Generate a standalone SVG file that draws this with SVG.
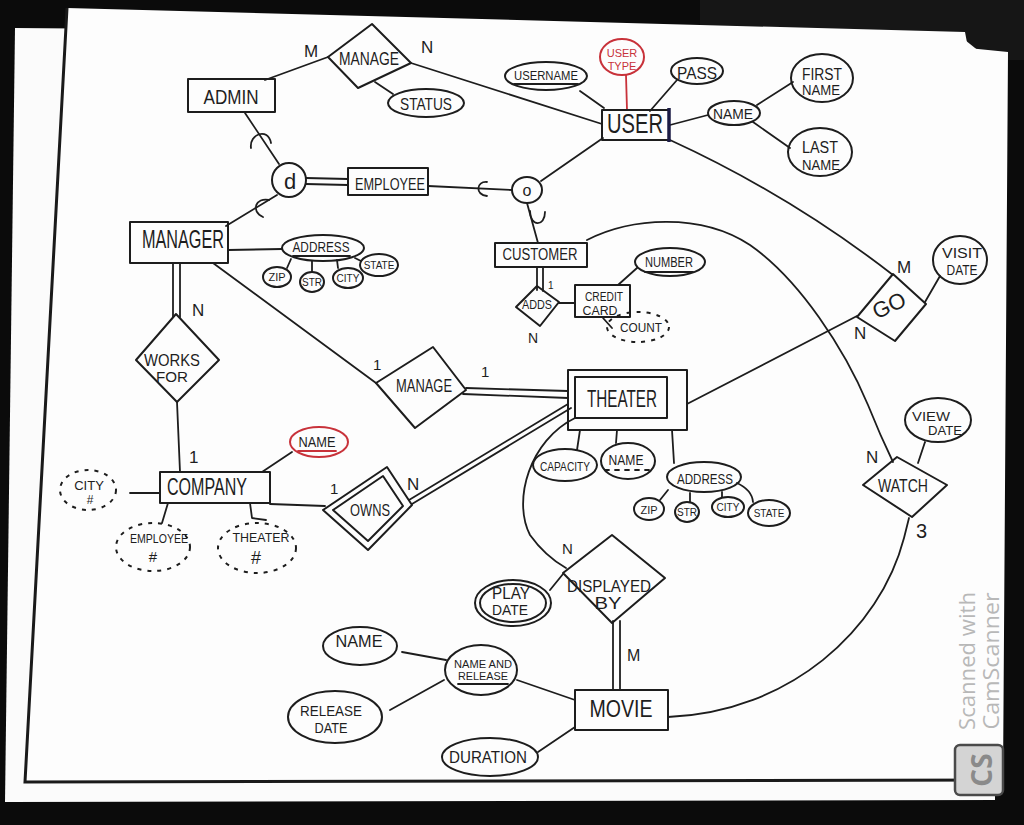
<svg xmlns="http://www.w3.org/2000/svg" width="1024" height="825" viewBox="0 0 1024 825">
  <style>
    .ln { fill: none; stroke: #1d1d1d; stroke-width: 1.8; stroke-linecap: round; stroke-linejoin: round; }
    .sh { fill: none; stroke: #1d1d1d; stroke-width: 2; stroke-linejoin: round; }
    .dash { stroke-dasharray: 4 6; }
    .red { stroke: #c8323a; }
    .t { font-family: "Liberation Sans", "DejaVu Sans", sans-serif; fill: #1e1e1e; text-anchor: middle; }
    .tr { fill: #c8323a; }
    .card { font-family: "Liberation Sans", "DejaVu Sans", sans-serif; fill: #1e1e1e; }
    .wm { font-family: "Open Sans", "Liberation Sans", sans-serif; fill: #b8b8b8; text-anchor: middle; }
  </style>

  <!-- backdrop and sheets of paper -->
  <rect x="0" y="0" width="1024" height="825" fill="#0b0b0b"/>
  <rect x="700" y="0" width="324" height="60" fill="#161616"/>
  <polygon points="15,28 960,36 990,60 995,800 5,802" fill="#fbfbfb"/>
  <polygon points="67,8 965,32 968,48 1008,52 1003,780 25,782" fill="#fdfdfd"/>
  <polyline points="67,8 25,782 1003,780" fill="none" stroke="#1a1a1a" stroke-width="3"/>

  <!-- connectors -->
  <g id="connectors" class="ln">
    <path d="M265 80 L328 57"/>
    <path d="M411 63 L602 124"/>
    <path d="M375 82 L393 94"/>
    <path d="M580 91 L604 108"/>
    <path class="red" d="M626 75 L627 110"/>
    <path d="M677 80 L650 111"/>
    <path d="M670 125 L708 115"/>
    <path d="M757 105 L793 82"/>
    <path d="M753 122 L790 148"/>
    <path d="M603 138 L541 181"/>
    <path d="M670 140 Q790 195 893 275"/>
    <!-- specialisation links with subset marks -->
    <path d="M245 113 L279 164"/>
    <path d="M251 148 C249 134 268 127 271 143"/>
    <path d="M306 178 L348 179"/>
    <path d="M306 184 L348 185"/>
    <path d="M428 186 L512 190"/>
    <path d="M487 182 C476 181 475 195 487 196"/>
    <path d="M277 195 L226 226"/>
    <path d="M269 200 C256 197 250 211 263 217"/>
    <path d="M527 203 L538 243"/>
    <path d="M530 211 C530 227 545 227 545 212"/>
    <!-- manager -->
    <path d="M228 250 L282 249"/>
    <path d="M291 259 L287 268"/>
    <path d="M312 261 L312 272"/>
    <path d="M337 260 L338 268"/>
    <path d="M355 258 L361 261"/>
    <path d="M173 263 L173 317"/>
    <path d="M180 263 L180 317"/>
    <path d="M177 402 L180 472"/>
    <path d="M213 263 L376 383"/>
    <!-- company -->
    <path d="M262 472 L292 452"/>
    <path d="M130 493 L160 493"/>
    <path d="M168 503 L162 523"/>
    <path d="M250 503 L252 518 L266 520"/>
    <path d="M270 504 L325 506"/>
    <path d="M409 500 L568 404"/>
    <path d="M412 504 L571 408"/>
    <path d="M466 388 L568 391"/>
    <path d="M463 394 L568 398"/>
    <!-- theater -->
    <path d="M575 418 C530 440 512 500 530 535 Q545 556 566 568"/>
    <path d="M687 404 L857 316"/>
    <path d="M580 430 L577 450"/>
    <path d="M617 430 L616 443"/>
    <path d="M672 430 L674 463"/>
    <path d="M668 490 L660 500"/>
    <path d="M690 493 L690 502"/>
    <path d="M722 492 L722 497"/>
    <path d="M737 483 Q752 490 753 502"/>
    <path d="M925 302 L940 276"/>
    <!-- customer -->
    <path d="M587 240 C630 218 700 212 750 245 C800 280 845 350 868 405 Q880 435 893 462"/>
    <path d="M537 267 L537 290"/>
    <path d="M543 267 L543 291"/>
    <path d="M559 303 L575 303"/>
    <path d="M618 285 L637 268"/>
    <path d="M603 318 L612 328"/>
    <!-- watch / movie -->
    <path d="M918 463 L925 442"/>
    <path d="M909 518 L904 538 C880 630 790 712 668 717"/>
    <path d="M563 574 L550 590"/>
    <path d="M613 621 L613 690"/>
    <path d="M620 621 L620 690"/>
    <path d="M575 700 L517 680"/>
    <path d="M402 652 L446 660"/>
    <path d="M390 710 L444 680"/>
    <path d="M575 727 L538 752"/>
  </g>

  <!-- cardinality labels -->
  <g id="cardinalities" class="card" font-size="17">
    <text x="304" y="57">M</text>
    <text x="421" y="53">N</text>
    <text x="192" y="316">N</text>
    <text x="189" y="463">1</text>
    <text x="330" y="494" font-size="15">1</text>
    <text x="407" y="490">N</text>
    <text x="373" y="370" font-size="15">1</text>
    <text x="481" y="377" font-size="15">1</text>
    <text x="897" y="273">M</text>
    <text x="854" y="339">N</text>
    <text x="548" y="289" font-size="10">1</text>
    <text x="528" y="343" font-size="14">N</text>
    <text x="866" y="463">N</text>
    <text x="916" y="538" font-size="20">3</text>
    <text x="562" y="554" font-size="15">N</text>
    <text x="627" y="661" font-size="16">M</text>
  </g>

  <!-- entities, relationships and attributes -->
  <g id="admin">
    <rect class="sh" x="188" y="79" width="87" height="33"/>
    <text class="t" x="231" y="104" font-size="20" textLength="55" lengthAdjust="spacingAndGlyphs">ADMIN</text>
  </g>
  <g id="manage-user">
    <polygon class="sh" points="328,57 372,24 411,63 358,88"/>
    <text class="t" x="369" y="65" font-size="19" textLength="60" lengthAdjust="spacingAndGlyphs">MANAGE</text>
  </g>
  <g id="status">
    <ellipse class="sh" cx="426" cy="103" rx="38" ry="14"/>
    <text class="t" x="426" y="110" font-size="17" textLength="52" lengthAdjust="spacingAndGlyphs">STATUS</text>
  </g>
  <g id="user">
    <rect class="sh" x="602" y="110" width="67" height="30"/>
    <path d="M669 108 L669 142" stroke="#1b1b45" stroke-width="3.5"/>
    <text class="t" x="635" y="133" font-size="27" textLength="56" lengthAdjust="spacingAndGlyphs">USER</text>
  </g>
  <g id="username">
    <ellipse class="sh" cx="546" cy="76" rx="41" ry="14"/>
    <text class="t" x="546" y="80" font-size="13" textLength="64" lengthAdjust="spacingAndGlyphs">USERNAME</text>
    <path class="ln" d="M514 84 L578 84"/>
  </g>
  <g id="user-type">
    <ellipse class="sh red" cx="622" cy="57" rx="22" ry="18"/>
    <text class="t tr" x="622" y="57" font-size="11">USER</text>
    <text class="t tr" x="622" y="70" font-size="11">TYPE</text>
  </g>
  <g id="pass">
    <ellipse class="sh" cx="697" cy="71" rx="26" ry="13"/>
    <text class="t" x="697" y="79" font-size="17" textLength="40" lengthAdjust="spacingAndGlyphs">PASS</text>
  </g>
  <g id="user-name">
    <ellipse class="sh" cx="734" cy="113" rx="26" ry="12"/>
    <text class="t" x="733" y="119" font-size="15" textLength="40" lengthAdjust="spacingAndGlyphs">NAME</text>
  </g>
  <g id="first-name">
    <ellipse class="sh" cx="822" cy="78" rx="31" ry="24"/>
    <text class="t" x="822" y="80" font-size="16" textLength="40" lengthAdjust="spacingAndGlyphs">FIRST</text>
    <text class="t" x="821" y="95" font-size="15" textLength="38" lengthAdjust="spacingAndGlyphs">NAME</text>
  </g>
  <g id="last-name">
    <ellipse class="sh" cx="820" cy="152" rx="32" ry="24"/>
    <text class="t" x="820" y="153" font-size="16" textLength="36" lengthAdjust="spacingAndGlyphs">LAST</text>
    <text class="t" x="821" y="170" font-size="15" textLength="38" lengthAdjust="spacingAndGlyphs">NAME</text>
  </g>
  <g id="disjoint">
    <circle class="sh" cx="289" cy="180" r="17"/>
    <text class="t" x="290" y="189" font-size="22">d</text>
  </g>
  <g id="employee">
    <rect class="sh" x="348" y="168" width="80" height="27"/>
    <text class="t" x="390" y="190" font-size="17" textLength="70" lengthAdjust="spacingAndGlyphs">EMPLOYEE</text>
  </g>
  <g id="overlap">
    <ellipse class="sh" cx="527" cy="190" rx="15" ry="13"/>
    <text class="t" x="527" y="196" font-size="16">o</text>
  </g>
  <g id="manager">
    <rect class="sh" x="130" y="222" width="98" height="41"/>
    <text class="t" x="183" y="248" font-size="26" textLength="82" lengthAdjust="spacingAndGlyphs">MANAGER</text>
  </g>
  <g id="manager-address">
    <ellipse class="sh" cx="323" cy="248" rx="41" ry="13"/>
    <text class="t" x="321" y="252" font-size="15" textLength="57" lengthAdjust="spacingAndGlyphs">ADDRESS</text>
    <path class="ln" d="M293 256 L350 256"/>
  </g>
  <g id="manager-zip">
    <ellipse class="sh" cx="277" cy="277" rx="14" ry="10"/>
    <text class="t" x="277" y="281" font-size="11">ZIP</text>
  </g>
  <g id="manager-str">
    <ellipse class="sh" cx="312" cy="282" rx="12" ry="10"/>
    <text class="t" x="312" y="286" font-size="10">STR</text>
  </g>
  <g id="manager-city">
    <ellipse class="sh" cx="348" cy="278" rx="15" ry="10"/>
    <text class="t" x="348" y="282" font-size="10">CITY</text>
  </g>
  <g id="manager-state">
    <ellipse class="sh" cx="379" cy="265" rx="19" ry="11"/>
    <text class="t" x="379" y="269" font-size="10">STATE</text>
  </g>
  <g id="works-for">
    <polygon class="sh" points="176,314 219,360 177,402 136,360"/>
    <text class="t" x="172" y="366" font-size="17" textLength="56" lengthAdjust="spacingAndGlyphs">WORKS</text>
    <text class="t" x="172" y="382" font-size="15" textLength="32" lengthAdjust="spacingAndGlyphs">FOR</text>
  </g>
  <g id="company">
    <rect class="sh" x="160" y="472" width="110" height="31"/>
    <text class="t" x="207" y="495" font-size="24" textLength="80" lengthAdjust="spacingAndGlyphs">COMPANY</text>
  </g>
  <g id="company-name">
    <ellipse class="sh red" cx="319" cy="442" rx="29" ry="15"/>
    <text class="t" x="317" y="447" font-size="15" textLength="37" lengthAdjust="spacingAndGlyphs">NAME</text>
    <path class="ln red" d="M298 451 L336 451"/>
  </g>
  <g id="city-count">
    <ellipse class="sh dash" cx="88" cy="490" rx="28" ry="20"/>
    <text class="t" x="89" y="490" font-size="13">CITY</text>
    <text class="t" x="90" y="504" font-size="12">#</text>
  </g>
  <g id="employee-count">
    <ellipse class="sh dash" cx="153" cy="547" rx="37" ry="24"/>
    <text class="t" x="159" y="543" font-size="13" textLength="58" lengthAdjust="spacingAndGlyphs">EMPLOYEE</text>
    <text class="t" x="153" y="562" font-size="15">#</text>
  </g>
  <g id="theater-count">
    <ellipse class="sh dash" cx="257" cy="548" rx="39" ry="25"/>
    <text class="t" x="261" y="542" font-size="13" textLength="57" lengthAdjust="spacingAndGlyphs">THEATER</text>
    <text class="t" x="256" y="564" font-size="18">#</text>
  </g>
  <g id="owns">
    <polygon class="sh" points="323,510 387,467 412,505 368,550"/>
    <polygon class="sh" points="333,510 383,476 403,506 368,541"/>
    <text class="t" x="370" y="516" font-size="17" textLength="40" lengthAdjust="spacingAndGlyphs">OWNS</text>
  </g>
  <g id="manage-theater">
    <polygon class="sh" points="376,383 433,347 466,390 415,428"/>
    <text class="t" x="424" y="392" font-size="18" textLength="56" lengthAdjust="spacingAndGlyphs">MANAGE</text>
  </g>
  <g id="theater">
    <rect class="sh" x="568" y="370" width="119" height="60"/>
    <rect class="sh" x="575" y="377" width="92" height="41"/>
    <text class="t" x="622" y="407" font-size="24" textLength="70" lengthAdjust="spacingAndGlyphs">THEATER</text>
  </g>
  <g id="capacity">
    <ellipse class="sh" cx="565" cy="465" rx="32" ry="16"/>
    <text class="t" x="565" y="471" font-size="13" textLength="50" lengthAdjust="spacingAndGlyphs">CAPACITY</text>
  </g>
  <g id="theater-name">
    <ellipse class="sh" cx="628" cy="461" rx="27" ry="18"/>
    <text class="t" x="626" y="465" font-size="14" textLength="35" lengthAdjust="spacingAndGlyphs">NAME</text>
    <path class="ln dash" d="M605 470 L650 470" stroke-dasharray="4 3"/>
  </g>
  <g id="theater-address">
    <ellipse class="sh" cx="704" cy="477" rx="37" ry="15"/>
    <text class="t" x="705" y="484" font-size="15" textLength="56" lengthAdjust="spacingAndGlyphs">ADDRESS</text>
  </g>
  <g id="theater-zip">
    <ellipse class="sh" cx="649" cy="509" rx="15" ry="11"/>
    <text class="t" x="649" y="514" font-size="11">ZIP</text>
  </g>
  <g id="theater-str">
    <ellipse class="sh" cx="687" cy="512" rx="12" ry="10"/>
    <text class="t" x="687" y="516" font-size="10">STR</text>
  </g>
  <g id="theater-city">
    <ellipse class="sh" cx="728" cy="507" rx="16" ry="10"/>
    <text class="t" x="728" y="511" font-size="10">CITY</text>
  </g>
  <g id="theater-state">
    <ellipse class="sh" cx="769" cy="513" rx="21" ry="13"/>
    <text class="t" x="769" y="517" font-size="10">STATE</text>
  </g>
  <g id="go">
    <polygon class="sh" points="893,274 926,304 895,341 857,317"/>
    <text class="t" x="889" y="313" font-size="22" transform="rotate(-25 889 305)">GO</text>
  </g>
  <g id="visit-date">
    <ellipse class="sh" cx="960" cy="260" rx="27" ry="24"/>
    <text class="t" x="962" y="258" font-size="14" textLength="40" lengthAdjust="spacingAndGlyphs">VISIT</text>
    <text class="t" x="962" y="275" font-size="14" textLength="31" lengthAdjust="spacingAndGlyphs">DATE</text>
  </g>
  <g id="customer">
    <rect class="sh" x="495" y="243" width="92" height="24"/>
    <text class="t" x="540" y="260" font-size="16" textLength="75" lengthAdjust="spacingAndGlyphs">CUSTOMER</text>
  </g>
  <g id="adds">
    <polygon class="sh" points="537,286 559,302 540,326 516,307"/>
    <text class="t" x="537" y="309" font-size="12" textLength="30" lengthAdjust="spacingAndGlyphs">ADDS</text>
  </g>
  <g id="credit-card">
    <rect class="sh" x="575" y="285" width="55" height="32"/>
    <text class="t" x="604" y="301" font-size="12" textLength="38" lengthAdjust="spacingAndGlyphs">CREDIT</text>
    <text class="t" x="600" y="315" font-size="12" textLength="35" lengthAdjust="spacingAndGlyphs">CARD</text>
  </g>
  <g id="number">
    <ellipse class="sh" cx="670" cy="262" rx="35" ry="14"/>
    <text class="t" x="669" y="267" font-size="14" textLength="48" lengthAdjust="spacingAndGlyphs">NUMBER</text>
    <path class="ln" d="M645 272 L693 272"/>
  </g>
  <g id="count">
    <ellipse class="sh dash" cx="638" cy="327" rx="31" ry="15"/>
    <text class="t" x="641" y="332" font-size="13" textLength="42" lengthAdjust="spacingAndGlyphs">COUNT</text>
  </g>
  <g id="watch">
    <polygon class="sh" points="863,485 897,457 947,485 912,517"/>
    <text class="t" x="903" y="492" font-size="18" textLength="50" lengthAdjust="spacingAndGlyphs">WATCH</text>
  </g>
  <g id="view-date">
    <ellipse class="sh" cx="938" cy="420" rx="33" ry="22"/>
    <text class="t" x="931" y="421" font-size="13" textLength="38" lengthAdjust="spacingAndGlyphs">VIEW</text>
    <text class="t" x="945" y="435" font-size="13" textLength="34" lengthAdjust="spacingAndGlyphs">DATE</text>
  </g>
  <g id="displayed-by">
    <polygon class="sh" points="612,535 665,578 612,623 563,573"/>
    <text class="t" x="609" y="592" font-size="16" textLength="84" lengthAdjust="spacingAndGlyphs">DISPLAYED</text>
    <text class="t" x="608" y="609" font-size="16" textLength="27" lengthAdjust="spacingAndGlyphs">BY</text>
  </g>
  <g id="play-date">
    <ellipse class="sh" cx="513" cy="603" rx="38" ry="23"/>
    <ellipse class="sh" cx="513" cy="603" rx="33" ry="19"/>
    <text class="t" x="511" y="599" font-size="16" textLength="38" lengthAdjust="spacingAndGlyphs">PLAY</text>
    <text class="t" x="510" y="615" font-size="14" textLength="36" lengthAdjust="spacingAndGlyphs">DATE</text>
  </g>
  <g id="movie">
    <rect class="sh" x="575" y="690" width="93" height="40"/>
    <text class="t" x="621" y="717" font-size="24" textLength="63" lengthAdjust="spacingAndGlyphs">MOVIE</text>
  </g>
  <g id="name-and-release">
    <ellipse class="sh" cx="481" cy="670" rx="36" ry="25"/>
    <text class="t" x="483" y="668" font-size="10" textLength="58" lengthAdjust="spacingAndGlyphs">NAME AND</text>
    <text class="t" x="483" y="680" font-size="10" textLength="50" lengthAdjust="spacingAndGlyphs">RELEASE</text>
    <path class="ln" d="M458 684 L508 684"/>
  </g>
  <g id="movie-name">
    <ellipse class="sh" cx="360" cy="646" rx="37" ry="19"/>
    <text class="t" x="359" y="647" font-size="17" textLength="47" lengthAdjust="spacingAndGlyphs">NAME</text>
  </g>
  <g id="release-date">
    <ellipse class="sh" cx="335" cy="717" rx="47" ry="26"/>
    <text class="t" x="331" y="716" font-size="15" textLength="62" lengthAdjust="spacingAndGlyphs">RELEASE</text>
    <text class="t" x="331" y="733" font-size="14" textLength="33" lengthAdjust="spacingAndGlyphs">DATE</text>
  </g>
  <g id="duration">
    <ellipse class="sh" cx="490" cy="757" rx="48" ry="19"/>
    <text class="t" x="488" y="763" font-size="16" textLength="78" lengthAdjust="spacingAndGlyphs">DURATION</text>
  </g>

  <!-- scanner stamp -->
  <g id="scanner-stamp">
    <text class="wm" x="975" y="661" font-size="22" textLength="138" lengthAdjust="spacingAndGlyphs" transform="rotate(-90 975 661)">Scanned with</text>
    <text class="wm" x="999" y="661" font-size="22" textLength="137" lengthAdjust="spacingAndGlyphs" transform="rotate(-90 999 661)">CamScanner</text>
    <rect x="955" y="745" width="48" height="50" rx="5" fill="#d4d4d4" stroke="#4a4a4a" stroke-width="2.5"/>
    <text x="992" y="770" font-family="Open Sans, Liberation Sans, sans-serif" font-weight="bold" font-size="28" fill="#8a8a8a" text-anchor="middle" transform="rotate(-90 992 770)">CS</text>
  </g>
</svg>
